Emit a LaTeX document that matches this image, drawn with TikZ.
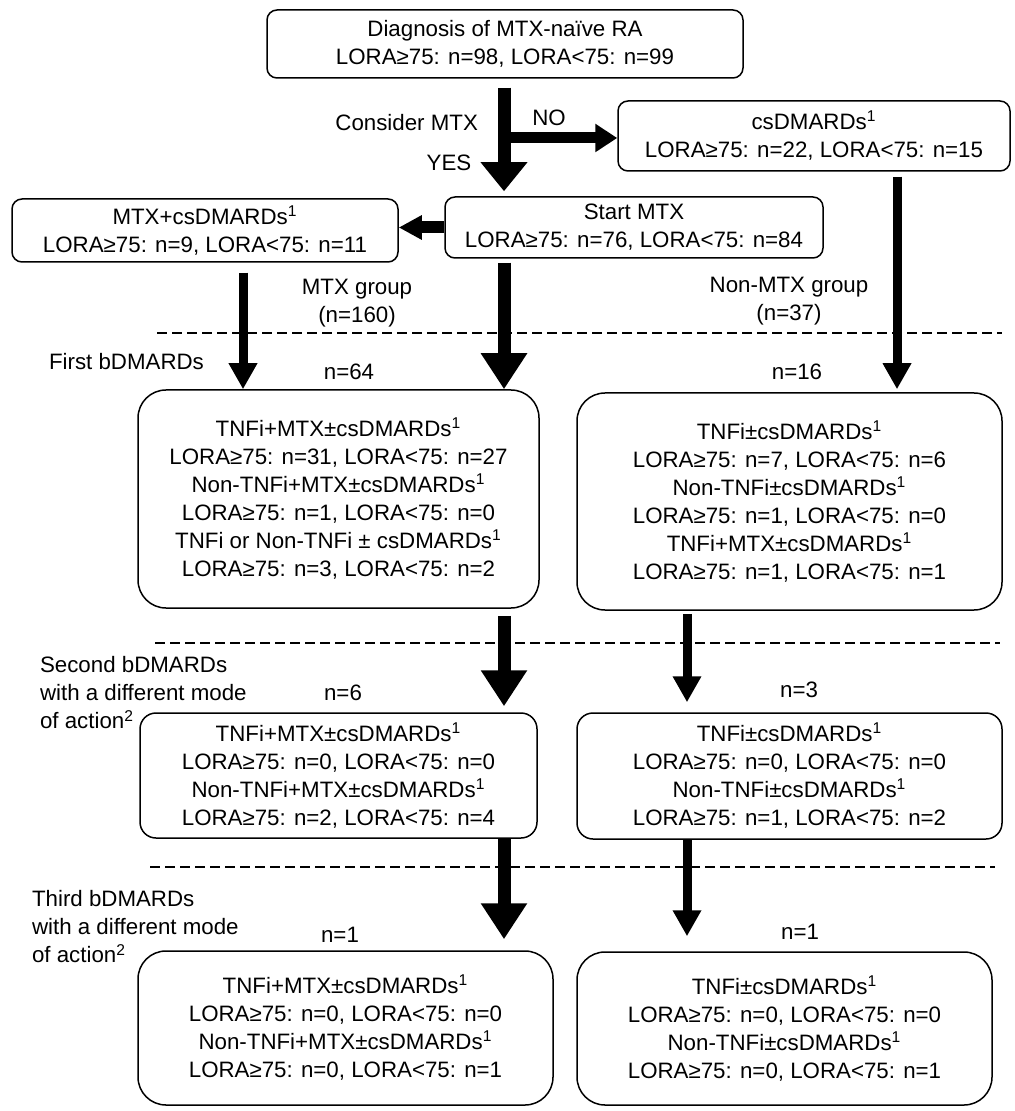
\documentclass[tikz,border=0pt]{standalone}
\usepackage{fontspec}
\setmainfont{Liberation Sans}
\usetikzlibrary{arrows.meta}

\begin{document}
\begin{tikzpicture}[x=0.5pt, y=-0.5pt,
  font=\fontsize{11.15}{14}\selectfont,
  box/.style={draw, line width=0.75pt, rounded corners=5pt, align=center, inner sep=0pt},
  bigbox/.style={box, rounded corners=14pt},
  fat/.style={line width=6.5pt, -{Triangle[length=18pt, width=22pt]}},
  slim/.style={line width=4.5pt, -{Triangle[length=13pt, width=13.5pt]}},
  sep/.style={line width=1.4pt, dash pattern=on 5pt off 2.5pt}]
  \useasboundingbox (0,0) rectangle (1014,1111);

  % Top part
  \node[box, minimum width=238pt, minimum height=34pt] (diag) at (505,44) {Diagnosis of MTX-naïve RA\\LORA≥75: n=98, LORA<75: n=99};
  \node[box, minimum width=196pt, minimum height=35pt] (nomtx) at (814,136) {csDMARDs\textsuperscript{1}\\LORA≥75: n=22, LORA<75: n=15};
  \node[box, minimum width=189pt, minimum height=30.5pt] (start) at (634,227.5) {Start MTX\\LORA≥75: n=76, LORA<75: n=84};
  \node[box, minimum width=193pt, minimum height=31.5pt] (mtxcs) at (205,230.5) {MTX+csDMARDs\textsuperscript{1}\\LORA≥75: n=9, LORA<75: n=11};

  \node[anchor=east] (consider) at (485,123) {Consider MTX};
  \node (no) at (549,118) {NO};
  \node (yes) at (449,163) {YES};
  \node[align=center] (mtxgrp) at (357,303) {MTX group\\(n=160)};
  \node[align=center] (nonmtxgrp) at (789,301) {Non-MTX group\\(n=37)};

  % First bDMARDs
  \node[anchor=west] (first) at (42,362) {First bDMARDs};
  \node (n64) at (349,372) {n=64};
  \node (n16) at (797,372) {n=16};
  \node[bigbox, minimum width=200.5pt, minimum height=109pt] (b1m) at (338.5,499) {TNFi+MTX±csDMARDs\textsuperscript{1}\\LORA≥75: n=31, LORA<75: n=27\\Non-TNFi+MTX±csDMARDs\textsuperscript{1}\\LORA≥75: n=1, LORA<75: n=0\\TNFi or Non-TNFi ± csDMARDs\textsuperscript{1}\\LORA≥75: n=3, LORA<75: n=2};
  \node[bigbox, minimum width=212.5pt, minimum height=108.5pt] (b1n) at (789.5,501.5) {TNFi±csDMARDs\textsuperscript{1}\\LORA≥75: n=7, LORA<75: n=6\\Non-TNFi±csDMARDs\textsuperscript{1}\\LORA≥75: n=1, LORA<75: n=0\\TNFi+MTX±csDMARDs\textsuperscript{1}\\LORA≥75: n=1, LORA<75: n=1};

  % Second bDMARDs
  \node[anchor=west, align=left] (second) at (33,693) {Second bDMARDs\\with a different mode\\of action\textsuperscript{2}};
  \node (n6) at (343,693) {n=6};
  \node (n3) at (799,690) {n=3};
  \node[box, rounded corners=8pt, minimum width=198.5pt, minimum height=62.5pt] (b2m) at (338.5,775.5) {TNFi+MTX±csDMARDs\textsuperscript{1}\\LORA≥75: n=0, LORA<75: n=0\\Non-TNFi+MTX±csDMARDs\textsuperscript{1}\\LORA≥75: n=2, LORA<75: n=4};
  \node[box, rounded corners=8pt, minimum width=212.5pt, minimum height=63pt] (b2n) at (789.5,776) {TNFi±csDMARDs\textsuperscript{1}\\LORA≥75: n=0, LORA<75: n=0\\Non-TNFi±csDMARDs\textsuperscript{1}\\LORA≥75: n=1, LORA<75: n=2};

  % Third bDMARDs
  \node[anchor=west, align=left] (third) at (25,927) {Third bDMARDs\\with a different mode\\of action\textsuperscript{2}};
  \node (n1m) at (340,935) {n=1};
  \node (n1n) at (800,932) {n=1};
  \node[bigbox, minimum width=207.5pt, minimum height=77pt] (b3m) at (345.5,1028) {TNFi+MTX±csDMARDs\textsuperscript{1}\\LORA≥75: n=0, LORA<75: n=0\\Non-TNFi+MTX±csDMARDs\textsuperscript{1}\\LORA≥75: n=0, LORA<75: n=1};
  \node[bigbox, minimum width=207.5pt, minimum height=76.5pt] (b3n) at (784.5,1028.5) {TNFi±csDMARDs\textsuperscript{1}\\LORA≥75: n=0, LORA<75: n=0\\Non-TNFi±csDMARDs\textsuperscript{1}\\LORA≥75: n=0, LORA<75: n=1};

  % Dashed separators
  \draw[sep] (157,333) -- (1002,333);
  \draw[sep] (155,643) -- (1000,643);
  \draw[sep] (150,867) -- (995,867);

  % Lanes for the arrows
  \coordinate (trunk) at (504,0);
  \coordinate (lanemtx) at (243,0);
  \coordinate (lanecs) at (897,0);
  \coordinate (lanenon) at (687,0);
  \coordinate (fork) at (504,138);

  % Arrows
  \draw[fat, -{Triangle[length=14.5pt, width=22.5pt]}, shorten <=4.5pt, shorten >=2.5pt] (diag.south -| trunk) -- (start.north -| trunk);
  \draw[line width=5.5pt, -{Triangle[length=11pt, width=13.5pt]}] (fork) -- (fork -| nomtx.west);
  \draw[line width=6pt, -{Triangle[length=11.5pt, width=11.5pt]}] (start.west) -- (start.west -| mtxcs.east);
  \draw[slim, shorten <=5pt] (mtxcs.south -| lanemtx) -- (b1m.north -| lanemtx);
  \draw[fat, shorten <=2pt] (start.south -| trunk) -- (b1m.north -| trunk);
  \draw[slim, shorten <=2.5pt, shorten >=1.5pt] (nomtx.south -| lanecs) -- (b1n.north -| lanecs);
  \draw[fat, shorten <=3.5pt, shorten >=3pt] (b1m.south -| trunk) -- (b2m.north -| trunk);
  \draw[slim, shorten <=1.5pt, shorten >=5pt] (b1n.south -| lanenon) -- (b2n.north -| lanenon);
  \draw[fat, shorten >=5.5pt] (b2m.south -| trunk) -- (b3m.north -| trunk);
  \draw[slim, shorten >=7.5pt] (b2n.south -| lanenon) -- (b3n.north -| lanenon);
\end{tikzpicture}
\end{document}
